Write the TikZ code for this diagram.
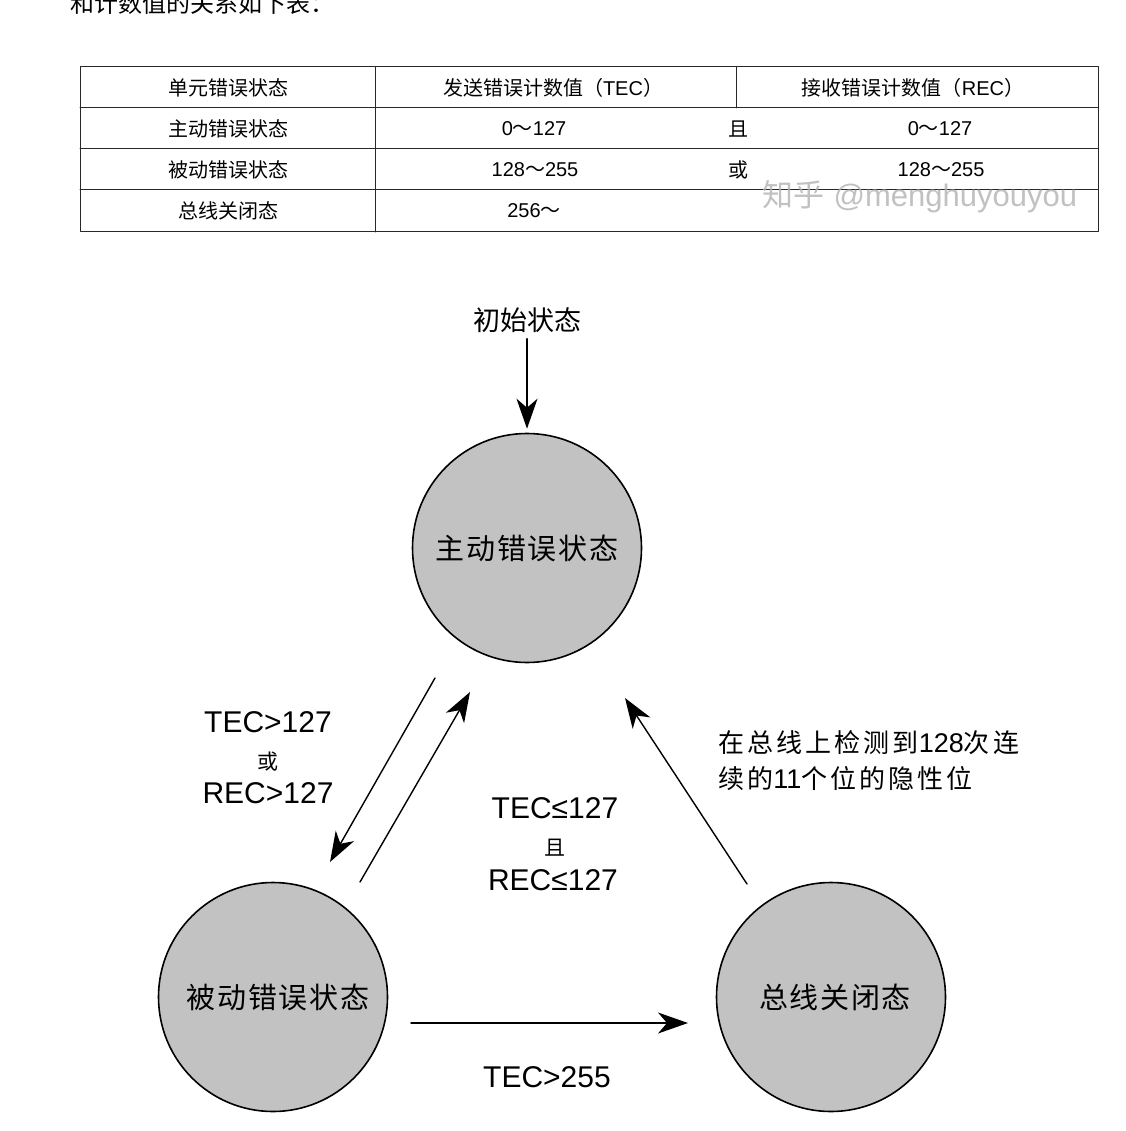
\documentclass[tikz,border=0pt]{standalone}
\usepackage{fontspec}
\setmainfont{Liberation Sans}
\newfontfamily\cjk{Noto Sans CJK SC}
\newfontfamily\cjkwide{Noto Sans CJK SC}[LetterSpace=6]
\newfontfamily\cjkwider{Noto Sans CJK SC}[LetterSpace=12]
\usetikzlibrary{arrows.meta}
\definecolor{stategray}{RGB}{194,194,194}
\definecolor{rulegray}{RGB}{40,40,40}
\tikzset{
  state/.style={circle, draw=black, line width=1.6pt, fill=stategray, minimum size=229pt, inner sep=0pt, font=\cjkwide\fontsize{29}{34}\selectfont},
  cell/.style={inner sep=0pt, font=\fontsize{20}{24}\selectfont},
  cond/.style={inner sep=0pt, align=center, font=\fontsize{30}{34}\selectfont},
  conj/.style={inner sep=0pt, font=\cjk\fontsize{21}{24}\selectfont},
  trans/.style={-{Stealth[length=30pt,width=21pt,inset=9pt]}, line width=1.4pt},
}
\begin{document}
\begin{tikzpicture}[x=1pt, y=-1pt, line join=round, line cap=round]
  \useasboundingbox (0,0) rectangle (1125,1131);
  \clip (0,0) rectangle (1125,1131);
  \def\tl{{\cjk ～}}
  % text above the table, cut at the top edge
  \node[anchor=west, inner sep=0pt, font=\cjk\fontsize{24}{26}\selectfont] (intro) at (70,3) {和计数值的关系如下表：};
  % table
  \draw[rulegray, line width=1pt] (80,67) rectangle (1098,232);
  \foreach \y in {108,149,190} \draw[rulegray, line width=1pt] (80,\y) -- (1098,\y);
  \draw[rulegray, line width=1pt] (375,67) -- (375,232);
  \draw[rulegray, line width=1pt] (736,67) -- (736,108);
  \node[cell] (h1) at (228,88) {\cjk 单元错误状态};
  \node[cell] (h2) at (553,88) {{\cjk 发送错误计数值（}TEC{\cjk ）}};
  \node[cell] (h3) at (913,88) {{\cjk 接收错误计数值（}REC{\cjk ）}};
  \node[cell] (r1) at (228,129) {\cjk 主动错误状态};
  \node[cell] (r1a) at (534,129) {0\tl127};
  \node[cell] (r1b) at (738,129) {\cjk 且};
  \node[cell] (r1c) at (940,129) {0\tl127};
  \node[cell] (r2) at (228,170) {\cjk 被动错误状态};
  \node[cell] (r2a) at (535,170) {128\tl255};
  \node[cell] (r2b) at (738,170) {\cjk 或};
  \node[cell] (r2c) at (941,170) {128\tl255};
  \node[cell] (r3) at (228,211) {\cjk 总线关闭态};
  \node[cell] (r3a) at (534,211) {256\tl};
  % watermark
  \node[inner sep=0pt, text=gray!60, opacity=0.8, font=\fontsize{31}{34}\selectfont] (mark) at (920,197) {{\cjk 知乎} @menghuyouyou};
  % states
  \node[state] (act) at (527,548) {主动错误状态};
  \node[state] (pas) at (273,997) {\raisebox{-8pt}{\hspace*{10pt}被动错误状态}};
  \node[state] (off) at (831,997) {\hspace*{8pt}总线关闭态};
  \node[inner sep=0pt, font=\cjk\fontsize{27}{30}\selectfont] (init) at (527,320) {初始状态};
  % arrow ends
  \coordinate (a1) at (435,678); \coordinate (a2) at (330,862);
  \coordinate (b1) at (360,882); \coordinate (b2) at (470,692);
  \coordinate (c1) at (747,884); \coordinate (c2) at (625,698);
  \coordinate (h1e) at (411,1023); \coordinate (h2e) at (688,1023);
  \draw[trans, shorten <=6pt, shorten >=4pt] (init) -- (act);
  \draw[trans] (a1) -- (a2);
  \draw[trans] (b1) -- (b2);
  \draw[trans] (c1) -- (c2);
  \draw[trans] (h1e) -- (h2e);
  % conditions
  \node[cond] (up1) at (268,722) {TEC>127};
  \node[conj] (up2) at (268,762) {或};
  \node[cond] (up3) at (268,793) {REC>127};
  \node[cond] (dn1) at (555,808) {TEC≤127};
  \node[conj] (dn2) at (555,848) {且};
  \node[cond] (dn3) at (553,880) {REC≤127};
  \node[anchor=west, inner sep=0pt, align=left, font=\fontsize{26}{36}\selectfont] (bus) at (718,761)
    {{\cjkwider 在总线上检测到}{\fontsize{27}{36}\selectfont 128}{\cjkwider 次连}\\{\cjkwider 续的}{\fontsize{27}{36}\selectfont 11}{\cjkwider 个位的隐性位}};
  \node[cond] (full) at (547,1077) {TEC>255};
\end{tikzpicture}
\end{document}
